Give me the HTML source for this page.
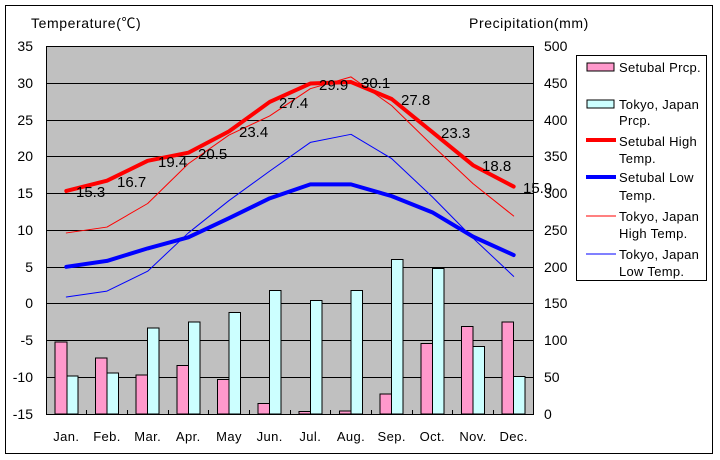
<!DOCTYPE html>
<html><head><meta charset="utf-8"><style>
html,body{margin:0;padding:0;background:#fff;}
svg{display:block;font-family:"Liberation Sans","Noto Sans CJK JP",sans-serif;}
</style></head><body>
<svg width="720" height="460" viewBox="0 0 720 460" xmlns="http://www.w3.org/2000/svg">
<rect x="0" y="0" width="720" height="460" fill="#fff"/>
<rect x="5.5" y="5.5" width="707" height="448" fill="#fff" stroke="#000" stroke-width="1"/>
<!-- plot area -->
<rect x="46.5" y="46.5" width="487" height="368" fill="#c0c0c0" stroke="#000" stroke-width="1"/>
<g stroke="#000" stroke-width="1">
<line x1="46" y1="83.5" x2="534" y2="83.5"/>
<line x1="46" y1="120.5" x2="534" y2="120.5"/>
<line x1="46" y1="156.5" x2="534" y2="156.5"/>
<line x1="46" y1="193.5" x2="534" y2="193.5"/>
<line x1="46" y1="230.5" x2="534" y2="230.5"/>
<line x1="46" y1="267.5" x2="534" y2="267.5"/>
<line x1="46" y1="303.5" x2="534" y2="303.5"/>
<line x1="46" y1="340.5" x2="534" y2="340.5"/>
<line x1="46" y1="377.5" x2="534" y2="377.5"/>
</g>
<!-- bars -->
<g stroke="#000" stroke-width="1">
<rect x="55" y="342" width="12" height="72" fill="#ff99cc"/>
<rect x="67" y="376" width="11" height="38" fill="#ccffff"/>
<rect x="95.5" y="358" width="11.5" height="56" fill="#ff99cc"/>
<rect x="107" y="373" width="11.5" height="41" fill="#ccffff"/>
<rect x="136" y="375" width="11.5" height="39" fill="#ff99cc"/>
<rect x="147.5" y="328" width="11.5" height="86" fill="#ccffff"/>
<rect x="177" y="365.5" width="11.5" height="48.5" fill="#ff99cc"/>
<rect x="188.5" y="322" width="11.5" height="92" fill="#ccffff"/>
<rect x="217.5" y="379.5" width="11.5" height="34.5" fill="#ff99cc"/>
<rect x="229" y="312.5" width="11.5" height="101.5" fill="#ccffff"/>
<rect x="258" y="403.5" width="11.5" height="10.5" fill="#ff99cc"/>
<rect x="269.5" y="290.5" width="11.5" height="123.5" fill="#ccffff"/>
<rect x="299" y="411.5" width="11.5" height="2.5" fill="#ff99cc"/>
<rect x="310.5" y="300.5" width="11.5" height="113.5" fill="#ccffff"/>
<rect x="339.5" y="411" width="11.5" height="3" fill="#ff99cc"/>
<rect x="351" y="290.5" width="11.5" height="123.5" fill="#ccffff"/>
<rect x="380" y="394" width="11.5" height="20" fill="#ff99cc"/>
<rect x="391.5" y="259.5" width="11.5" height="154.5" fill="#ccffff"/>
<rect x="421" y="343.5" width="11.5" height="70.5" fill="#ff99cc"/>
<rect x="432.5" y="268.5" width="11.5" height="145.5" fill="#ccffff"/>
<rect x="461.5" y="326.5" width="11.5" height="87.5" fill="#ff99cc"/>
<rect x="473" y="346.5" width="11.5" height="67.5" fill="#ccffff"/>
<rect x="502" y="322" width="11.5" height="92" fill="#ff99cc"/>
<rect x="513.5" y="376.5" width="11.5" height="37.5" fill="#ccffff"/>
</g>
<!-- category ticks -->
<g stroke="#000" stroke-width="1">
<line x1="86.5" y1="410" x2="86.5" y2="414"/>
<line x1="127.5" y1="410" x2="127.5" y2="414"/>
<line x1="168.5" y1="410" x2="168.5" y2="414"/>
<line x1="208.5" y1="410" x2="208.5" y2="414"/>
<line x1="249.5" y1="410" x2="249.5" y2="414"/>
<line x1="290.5" y1="410" x2="290.5" y2="414"/>
<line x1="330.5" y1="410" x2="330.5" y2="414"/>
<line x1="371.5" y1="410" x2="371.5" y2="414"/>
<line x1="412.5" y1="410" x2="412.5" y2="414"/>
<line x1="452.5" y1="410" x2="452.5" y2="414"/>
<line x1="493.5" y1="410" x2="493.5" y2="414"/>
</g>
<!-- lines -->
<g fill="none" stroke-linejoin="round" stroke-linecap="round">
<polyline stroke="#ff0000" stroke-width="1" points="66.33,232.94 107,227.06 147.67,203.5 188.33,163.76 229,135.06 269.67,115.92 310.33,88.69 351,76.91 391.67,105.62 432.33,145.36 473,183.63 513.67,216.02"/>
<polyline stroke="#0000ff" stroke-width="1" points="66.33,296.98 107,291.09 147.67,271.22 188.33,232.94 229,200.56 269.67,171.12 310.33,142.42 351,134.32 391.67,158.61 432.33,196.88 473,238.1 513.67,276.37"/>
<polyline stroke="#ff0000" stroke-width="4" points="66.33,190.99 107,180.69 147.67,160.82 188.33,152.72 229,131.38 269.67,101.94 310.33,83.54 351,82.06 391.67,98.99 432.33,132.11 473,165.23 513.67,186.58"/>
<polyline stroke="#0000ff" stroke-width="4" points="66.33,266.8 107,260.91 147.67,248.4 188.33,237.36 229,218.22 269.67,198.35 310.33,184.37 351,184.37 391.67,196.14 432.33,212.34 473,236.62 513.67,255.02"/>
</g>
<!-- data labels -->
<g font-size="15" fill="#000">
<text x="76" y="197">15.3</text>
<text x="117" y="187">16.7</text>
<text x="158" y="167">19.4</text>
<text x="198" y="159">20.5</text>
<text x="239" y="137">23.4</text>
<text x="279" y="108">27.4</text>
<text x="319" y="90">29.9</text>
<text x="361" y="88">30.1</text>
<text x="401" y="105">27.8</text>
<text x="441" y="138">23.3</text>
<text x="482" y="171">18.8</text>
<text x="523" y="193">15.9</text>
</g>
<!-- left axis labels -->
<g font-size="14" fill="#000" text-anchor="end">
<text x="33" y="51">35</text>
<text x="33" y="88">30</text>
<text x="33" y="125">25</text>
<text x="33" y="161">20</text>
<text x="33" y="198">15</text>
<text x="33" y="235">10</text>
<text x="33" y="272">5</text>
<text x="33" y="308">0</text>
<text x="33" y="345">-5</text>
<text x="33" y="382">-10</text>
<text x="33" y="419">-15</text>
</g>
<!-- right axis labels -->
<g font-size="14" fill="#000">
<text x="544" y="51">500</text>
<text x="544" y="88">450</text>
<text x="544" y="125">400</text>
<text x="544" y="161">350</text>
<text x="544" y="198">300</text>
<text x="544" y="235">250</text>
<text x="544" y="272">200</text>
<text x="544" y="308">150</text>
<text x="544" y="345">100</text>
<text x="544" y="382">50</text>
<text x="544" y="419">0</text>
</g>
<!-- month labels -->
<g font-size="13" fill="#000" text-anchor="middle" letter-spacing="0.4">
<text x="66.3" y="441">Jan.</text>
<text x="107" y="441">Feb.</text>
<text x="147.7" y="441">Mar.</text>
<text x="188.3" y="441">Apr.</text>
<text x="229" y="441">May</text>
<text x="269.7" y="441">Jun.</text>
<text x="310.3" y="441">Jul.</text>
<text x="351" y="441">Aug.</text>
<text x="391.7" y="441">Sep.</text>
<text x="432.3" y="441">Oct.</text>
<text x="473" y="441">Nov.</text>
<text x="513.7" y="441">Dec.</text>
</g>
<!-- titles -->
<text x="31" y="28" font-size="14" fill="#000" letter-spacing="0.6">Temperature(℃)</text>
<text x="469" y="28" font-size="14" fill="#000" letter-spacing="0.6">Precipitation(mm)</text>
<!-- legend -->
<rect x="576.5" y="55.5" width="130" height="225" fill="#fff" stroke="#000" stroke-width="1"/>
<rect x="587" y="63" width="27" height="8" fill="#ff99cc" stroke="#000" stroke-width="1"/>
<rect x="587" y="100" width="27" height="8" fill="#ccffff" stroke="#000" stroke-width="1"/>
<line x1="586" y1="140" x2="616" y2="140" stroke="#ff0000" stroke-width="4"/>
<line x1="586" y1="177" x2="616" y2="177" stroke="#0000ff" stroke-width="4"/>
<line x1="586" y1="216" x2="616" y2="216" stroke="#ff0000" stroke-width="1"/>
<line x1="586" y1="254" x2="616" y2="254" stroke="#0000ff" stroke-width="1"/>
<g font-size="13" fill="#000" letter-spacing="0.3">
<text x="619" y="72">Setubal Prcp.</text>
<text x="619" y="109">Tokyo, Japan</text>
<text x="619" y="125">Prcp.</text>
<text x="619" y="146">Setubal High</text>
<text x="619" y="163">Temp.</text>
<text x="619" y="182">Setubal Low</text>
<text x="619" y="200">Temp.</text>
<text x="619" y="221">Tokyo, Japan</text>
<text x="619" y="238">High Temp.</text>
<text x="619" y="259">Tokyo, Japan</text>
<text x="619" y="276">Low Temp.</text>
</g>
</svg>
</body></html>
